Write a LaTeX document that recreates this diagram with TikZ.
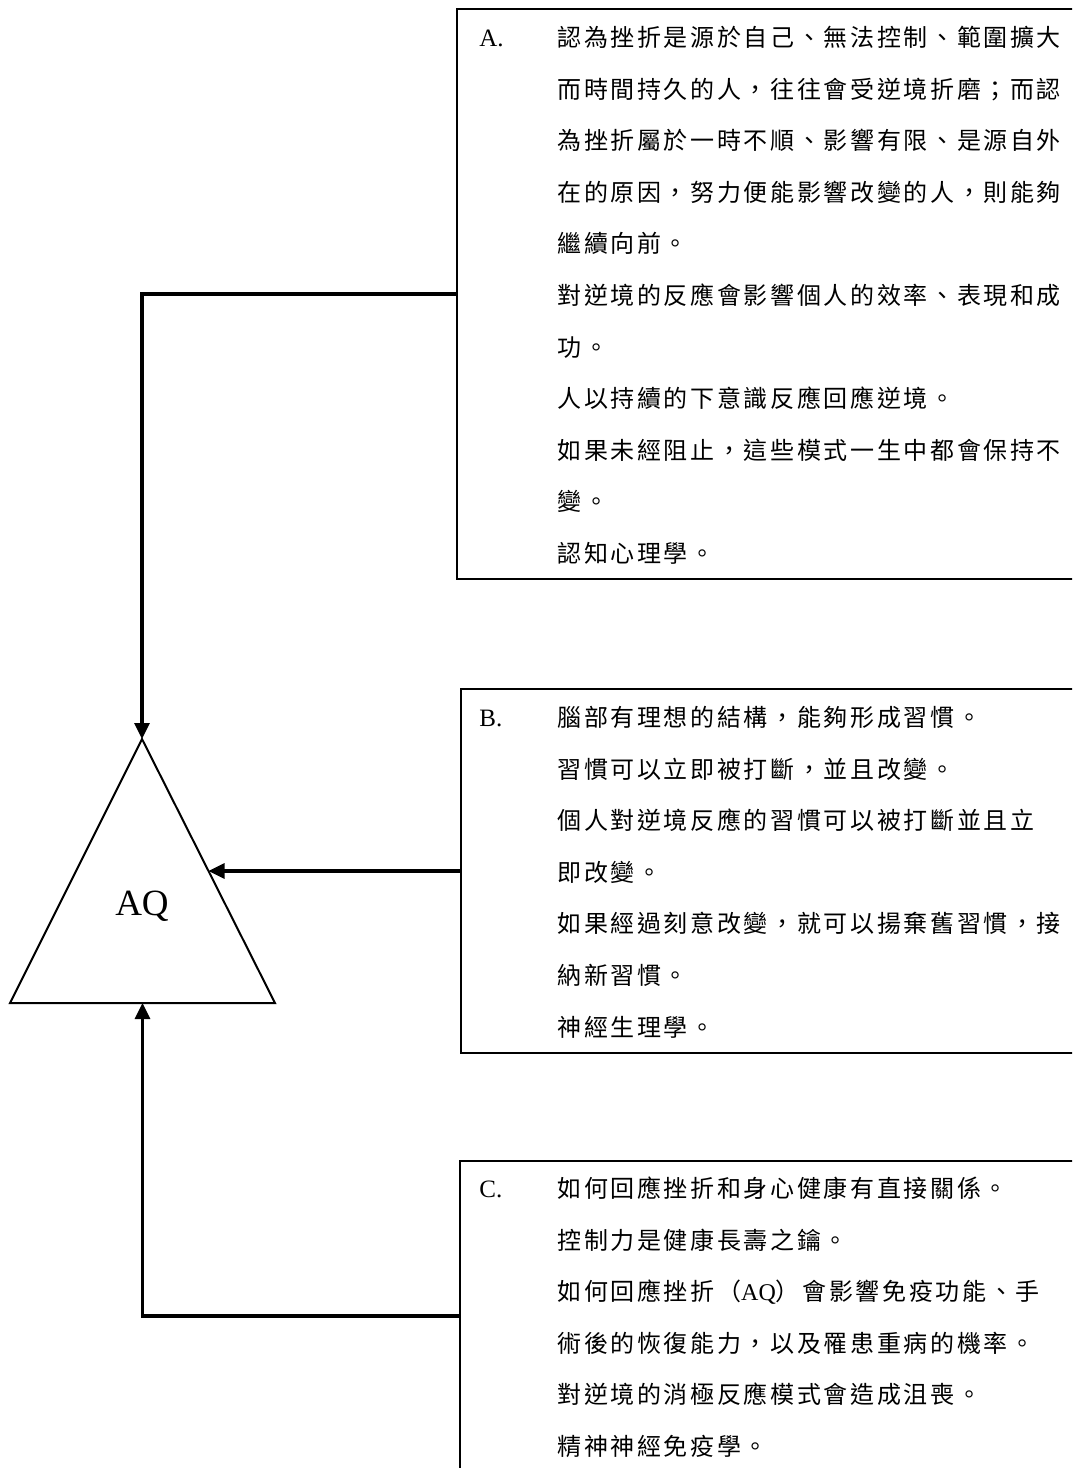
\documentclass[tikz,border=0pt]{standalone}
\usepackage{fontspec}
\usepackage{array}
\setmainfont{Liberation Serif}
\newfontfamily\cjk[LetterSpace=11]{Noto Sans CJK TC}
\usetikzlibrary{arrows.meta,calc}

\begin{document}
\begin{tikzpicture}[x=0.5pt,y=-0.5pt,
  infobox/.style={draw,line width=1pt,anchor=north west,minimum width=350pt,inner sep=0pt},
  entry/.style={anchor=north west,inner sep=0pt,font=\fontsize{12.5}{25.8}\selectfont},
  conn/.style={line width=1.6pt,-{Triangle[length=8pt,width=7.5pt]}}]
\useasboundingbox (0,0) rectangle (1072,1468);
\clip (0,0) rectangle (1072,1468);
\node[infobox,minimum height=285pt] (a) at (456,8) {};
\node[infobox,minimum height=182pt] (b) at (460,688) {};
\node[infobox,minimum height=155pt] (c) at (459,1160) {};
\node[entry] (ta) at (479,10) {\begin{tabular}{@{}p{39pt}@{}>{\cjk\fontsize{12}{25.8}\selectfont}l@{}}
A. & 認為挫折是源於自己、無法控制、範圍擴大\\
 & 而時間持久的人，往往會受逆境折磨；而認\\
 & 為挫折屬於一時不順、影響有限、是源自外\\
 & 在的原因，努力便能影響改變的人，則能夠\\
 & 繼續向前。\\
 & 對逆境的反應會影響個人的效率、表現和成\\
 & 功。\\
 & 人以持續的下意識反應回應逆境。\\
 & 如果未經阻止，這些模式一生中都會保持不\\
 & 變。\\
 & 認知心理學。
\end{tabular}};
\node[entry] (tb) at (479,690) {\begin{tabular}{@{}p{39pt}@{}>{\cjk\fontsize{12}{25.8}\selectfont}l@{}}
B. & 腦部有理想的結構，能夠形成習慣。\\
 & 習慣可以立即被打斷，並且改變。\\
 & 個人對逆境反應的習慣可以被打斷並且立\\
 & 即改變。\\
 & 如果經過刻意改變，就可以揚棄舊習慣，接\\
 & 納新習慣。\\
 & 神經生理學。
\end{tabular}};
\node[entry] (tc) at (479,1161) {\begin{tabular}{@{}p{39pt}@{}>{\cjk\fontsize{12}{25.8}\selectfont}l@{}}
C. & 如何回應挫折和身心健康有直接關係。\\
 & 控制力是健康長壽之鑰。\\
 & 如何回應挫折（{\rmfamily AQ}）會影響免疫功能、手\\
 & 術後的恢復能力，以及罹患重病的機率。\\
 & 對逆境的消極反應模式會造成沮喪。\\
 & 精神神經免疫學。
\end{tabular}};
\coordinate (top) at (142,739);
\coordinate (bl) at (10,1003);
\coordinate (br) at (275,1003);
\draw[line width=1pt] (top) -- (bl) -- (br) -- cycle;
\node[anchor=base,font=\fontsize{18.5}{20}\selectfont] (aq) at (142,915) {AQ};
\draw[conn] (a.west) -| (top);
\draw[conn] (b.west) -- ($(top)!0.5!(br)$);
\draw[conn] (c.west) -| ($(bl)!0.5!(br)$);
\end{tikzpicture}
\end{document}
